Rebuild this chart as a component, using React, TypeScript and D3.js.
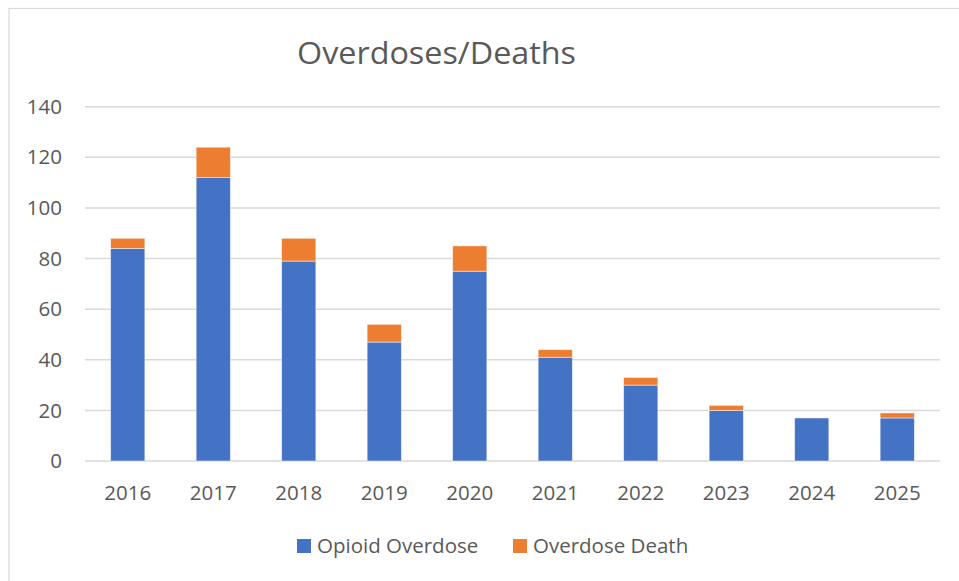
import React from "react";
import * as d3 from "d3";

const years = ["2016", "2017", "2018", "2019", "2020", "2021", "2022", "2023", "2024", "2025"];
const opioidOverdose = [84, 112, 79, 47, 75, 41, 30, 20, 17, 17];
const overdoseDeath = [4, 12, 9, 7, 10, 3, 3, 2, 0, 2];
const yTicks = [0, 20, 40, 60, 80, 100, 120, 140];
const seriesNames = ["Opioid Overdose", "Overdose Death"];
const seriesColors = ["#4472C4", "#ED7D31"];

const W = 959;
const H = 581;
const plot = { left: 85, right: 940, top: 106.7, bottom: 461 };
const font = "'Open Sans', 'DejaVu Sans', sans-serif";
const textColor = "#595959";

export default function App() {
  const x = d3.scaleBand<string>().domain(years).range([plot.left, plot.right]).paddingInner(0.6).paddingOuter(0.3);
  const y = d3.scaleLinear().domain([0, 140]).range([plot.bottom, plot.top]);

  const rows = years.map((yr, i) => ({ year: yr, a: opioidOverdose[i], b: overdoseDeath[i] }));
  const stack = d3.stack<any>().keys(["a", "b"])(rows);

  return (
    <svg width={W} height={H} style={{ position: "absolute", left: 0, top: 0, background: "#fff" }}>
      <rect x={9} y={8.5} width={W + 10} height={H + 10} fill="#fff" stroke="#d9d9d9" strokeWidth={1.2} />
      <text x={436.5} y={64} textAnchor="middle" fontFamily={font} fontSize={31} textLength={279} lengthAdjust="spacingAndGlyphs" fill={textColor}>
        Overdoses/Deaths
      </text>
      {yTicks.map((t) => (
        <g key={t}>
          <line x1={plot.left} x2={plot.right} y1={y(t)} y2={y(t)} stroke="#d9d9d9" strokeWidth={1.5} />
          <text x={62} y={y(t)} dy="0.35em" textAnchor="end" fontFamily={font} fontSize={20.5} fill={textColor}>
            {t}
          </text>
        </g>
      ))}
      {stack.map((layer, si) => (
        <g key={si}>
          {layer.map((d, i) =>
            d[1] - d[0] > 0 ? (
              <rect
                key={i}
                x={x(years[i])}
                y={y(d[1])}
                width={x.bandwidth()}
                height={y(d[0]) - y(d[1])}
                fill={seriesColors[si]}
                stroke="#fff"
                strokeOpacity={0.6}
                strokeWidth={0.8}
              />
            ) : null
          )}
        </g>
      ))}
      {years.map((yr) => (
        <text key={yr} x={(x(yr) as number) + x.bandwidth() / 2} y={499.5} textAnchor="middle" fontFamily={font} fontSize={20.5} fill={textColor}>
          {yr}
        </text>
      ))}
      {seriesNames.map((name, i) => {
        const lx = [297, 513][i];
        return (
          <g key={name}>
            <rect x={lx} y={539} width={14} height={14} fill={seriesColors[i]} />
            <text x={lx + 20} y={553} fontFamily={font} fontSize={20.5} fill={textColor}>
              {name}
            </text>
          </g>
        );
      })}
    </svg>
  );
}
